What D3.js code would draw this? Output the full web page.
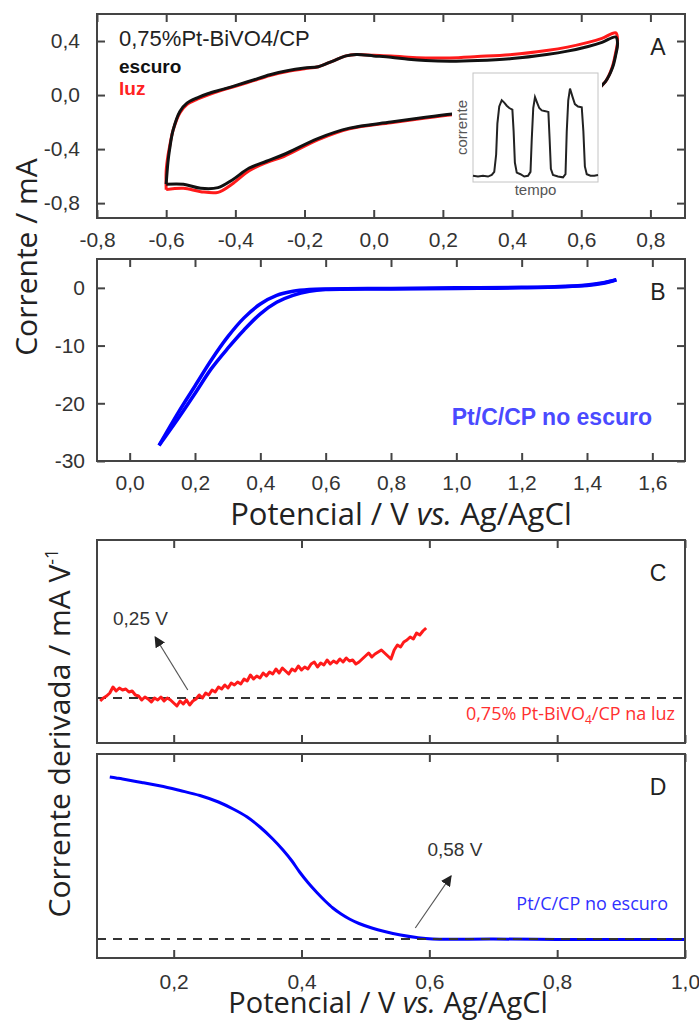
<html>
<head>
<script src="https://d3js.org/d3.v7.min.js"></script>
<style>
  body { margin: 0; background: #fff; }
</style>
</head>
<body>
<script>
// ---- data ----

// Panel A: cyclic voltammogram, 0,75%Pt-BiVO4/CP  [potential V, current mA]
var cvDark = [[-0.60,-0.66],[-0.595,-0.50],[-0.59,-0.40],[-0.58,-0.26],[-0.56,-0.12],[-0.54,-0.06],[-0.51,-0.02],[-0.48,0.01],
  [-0.44,0.04],[-0.40,0.07],[-0.35,0.11],[-0.30,0.15],[-0.25,0.18],[-0.20,0.20],[-0.16,0.21],[-0.12,0.25],[-0.08,0.29],
  [-0.05,0.30],[0.0,0.29],[0.05,0.28],[0.10,0.265],[0.15,0.255],[0.22,0.25],[0.30,0.255],[0.40,0.27],[0.50,0.30],
  [0.56,0.325],[0.62,0.36],[0.66,0.39],[0.70,0.43],[0.705,0.38],[0.70,0.30],[0.69,0.20],[0.67,0.10],[0.64,0.03],
  [0.60,-0.01],[0.50,-0.06],[0.40,-0.09],[0.30,-0.12],[0.227,-0.14],[0.15,-0.165],[0.05,-0.20],[-0.07,-0.245],
  [-0.16,-0.32],[-0.26,-0.44],[-0.31,-0.49],[-0.36,-0.54],[-0.41,-0.63],[-0.45,-0.685],[-0.50,-0.69],[-0.55,-0.66],[-0.60,-0.66]];
var cvLight = [[-0.60,-0.70],[-0.60,-0.56],[-0.595,-0.45],[-0.59,-0.38],[-0.58,-0.26],[-0.56,-0.13],[-0.54,-0.07],[-0.51,-0.03],
  [-0.48,0.0],[-0.44,0.035],[-0.40,0.065],[-0.35,0.105],[-0.30,0.145],[-0.25,0.175],[-0.20,0.195],[-0.16,0.21],[-0.12,0.25],
  [-0.08,0.29],[-0.05,0.30],[0.0,0.295],[0.05,0.29],[0.10,0.28],[0.15,0.275],[0.22,0.275],[0.30,0.285],[0.40,0.30],
  [0.50,0.33],[0.56,0.355],[0.62,0.39],[0.66,0.42],[0.70,0.46],[0.705,0.40],[0.70,0.32],[0.69,0.21],[0.67,0.10],
  [0.64,0.03],[0.60,-0.01],[0.50,-0.065],[0.40,-0.095],[0.30,-0.125],[0.227,-0.145],[0.15,-0.17],[0.05,-0.205],
  [-0.07,-0.25],[-0.16,-0.33],[-0.26,-0.455],[-0.31,-0.50],[-0.36,-0.56],[-0.41,-0.66],[-0.45,-0.72],[-0.50,-0.715],
  [-0.55,-0.69],[-0.60,-0.70]];

// inset of panel A: chopped light transient [time a.u., current a.u.]
var insetPulses = [[0,0.03],[4,0.02],[8,0.03],[12,0.02],[15,0.04],[17,0.08],[18.5,0.3],[19.5,0.7],[21,0.92],[23,1.0],
  [25,0.97],[27,0.93],[29,0.9],[31.5,0.88],[32.5,0.6],[33.5,0.2],[35,0.07],[38,0.05],[41,0.02],[44,0.03],[46,0.08],
  [47,0.5],[48.2,0.9],[49.6,1.04],[51.5,0.96],[53,0.9],[55,0.87],[58,0.86],[60.3,0.85],[61.3,0.5],[62.3,0.12],[64,0.04],
  [68,0.02],[72,0.01],[74,0.05],[75,0.6],[76.2,1.0],[77.6,1.15],[79.5,1.05],[81.5,0.95],[84,0.92],[87,0.91],[88.3,0.6],
  [89.5,0.15],[91,0.05],[94,0.03],[97,0.03],[100,0.04]];

// Panel B: Pt/C/CP in the dark, two scan branches [potential V, current mA]
var ptForward = [[0.09,-27.3],[0.15,-21.5],[0.20,-17.0],[0.25,-12.5],[0.30,-8.5],[0.35,-5.2],[0.40,-2.8],[0.45,-1.3],
  [0.50,-0.6],[0.55,-0.3],[0.60,-0.2],[0.80,-0.1],[1.00,0.0],[1.20,0.1],[1.30,0.2],[1.40,0.5],[1.45,0.9],[1.49,1.4]];
var ptBackward = [[1.49,1.4],[1.45,0.8],[1.40,0.4],[1.20,0.0],[1.00,-0.1],[0.80,-0.2],[0.60,-0.3],[0.55,-0.6],[0.50,-1.3],
  [0.45,-2.5],[0.40,-4.5],[0.35,-7.3],[0.30,-10.5],[0.25,-14.0],[0.20,-18.3],[0.15,-22.5],[0.09,-27.3]];

// Panel C: derivative current, 0,75% Pt-BiVO4/CP under light
var derivLight = [[0.085,-0.03],[0.090,0.00],[0.095,0.02],[0.100,0.05],[0.105,0.11],[0.110,0.07],[0.115,0.10],[0.120,0.08],
  [0.125,0.09],[0.130,0.06],[0.135,0.07],[0.140,0.03],[0.145,0.02],[0.150,-0.02],[0.155,0.01],[0.160,-0.01],[0.165,-0.04],
  [0.170,0.00],[0.175,-0.02],[0.180,0.01],[0.185,-0.03],[0.190,0.00],[0.195,-0.02],[0.200,-0.05],[0.205,-0.08],[0.210,-0.03],
  [0.215,-0.06],[0.220,-0.02],[0.225,-0.07],[0.230,-0.03],[0.235,-0.01],[0.240,0.03],[0.245,0.00],[0.250,0.05],[0.255,0.03],
  [0.260,0.08],[0.265,0.06],[0.270,0.11],[0.275,0.09],[0.280,0.13],[0.285,0.10],[0.290,0.15],[0.295,0.13],[0.300,0.16],
  [0.305,0.14],[0.310,0.19],[0.315,0.17],[0.320,0.23],[0.325,0.19],[0.330,0.22],[0.335,0.20],[0.340,0.25],[0.345,0.22],
  [0.350,0.26],[0.355,0.24],[0.360,0.29],[0.365,0.25],[0.370,0.30],[0.375,0.27],[0.380,0.24],[0.385,0.29],[0.390,0.27],
  [0.395,0.32],[0.400,0.28],[0.405,0.31],[0.410,0.29],[0.415,0.34],[0.420,0.36],[0.425,0.31],[0.430,0.35],[0.435,0.33],
  [0.440,0.38],[0.445,0.34],[0.450,0.37],[0.455,0.35],[0.460,0.39],[0.465,0.36],[0.470,0.40],[0.475,0.37],[0.480,0.38],
  [0.485,0.34],[0.490,0.36],[0.495,0.39],[0.500,0.42],[0.505,0.45],[0.510,0.41],[0.515,0.44],[0.520,0.46],[0.525,0.48],
  [0.530,0.45],[0.535,0.42],[0.540,0.39],[0.545,0.48],[0.550,0.53],[0.555,0.51],[0.560,0.56],[0.565,0.58],[0.570,0.61],
  [0.575,0.59],[0.580,0.65],[0.585,0.63],[0.590,0.67],[0.595,0.70]];

// Panel D: derivative current, Pt/C/CP in the dark
var derivDark = [[0.100,1.62],[0.110,1.61],[0.120,1.60],[0.150,1.565],[0.190,1.515],[0.210,1.485],[0.241,1.435],
  [0.270,1.37],[0.293,1.30],[0.315,1.22],[0.335,1.12],[0.355,1.00],[0.371,0.89],[0.385,0.78],[0.397,0.67],[0.410,0.565],
  [0.424,0.465],[0.437,0.38],[0.449,0.31],[0.462,0.25],[0.475,0.20],[0.490,0.155],[0.510,0.11],[0.530,0.075],
  [0.555,0.04],[0.580,0.015],[0.605,0.00],[0.700,0.00],[0.800,-0.005],[0.900,-0.005],[1.000,-0.005]];

// onset arrows: [tail, head] in data units
var onsetC = [[0.222,0.08],[0.171,0.61]];
var onsetD = [[0.578,0.11],[0.634,0.63]];

// tick values
var ticksAx = [-0.8,-0.6,-0.4,-0.2,0.0,0.2,0.4,0.6,0.8];
var ticksAy = [-0.8,-0.4,0.0,0.4];
var ticksBx = [0.0,0.2,0.4,0.6,0.8,1.0,1.2,1.4,1.6];
var ticksBy = [-30,-20,-10,0];
var ticksCDx = [0.2,0.4,0.6,0.8,1.0];

// ---- layout ----
var width = 699, height = 1021;
var left = 97, right = 685;
var panelA = {top: 14, bottom: 218};
var panelB = {top: 259, bottom: 461};
var panelC = {top: 540, bottom: 743};
var panelD = {top: 754, bottom: 958};

var frameColor = "#444";
var tickFont = "'Liberation Sans', Arial, sans-serif";
var titleFont = "'Open Sans', sans-serif";

// Portuguese style numbers: comma decimal, plain hyphen minus
var locale = d3.formatLocale({decimal: ",", thousands: ".", grouping: [3], currency: ["", ""], minus: "-"});
var fmt1 = locale.format(".1f");
var fmt0 = locale.format(".0f");

var svg = d3.select("body").append("svg")
    .attr("width", width)
    .attr("height", height);

svg.append("rect").attr("width", width).attr("height", height).attr("fill", "#fff");

// scales
var xA = d3.scaleLinear().domain([-0.8, 0.9]).range([left, right]);
var yA = d3.scaleLinear().domain([-0.91, 0.6]).range([panelA.bottom, panelA.top]);
var xB = d3.scaleLinear().domain([-0.1, 1.7]).range([left, right]);
var yB = d3.scaleLinear().domain([-30, 5]).range([panelB.bottom, panelB.top]);
var xCD = d3.scaleLinear().domain([0.08, 1.0]).range([left, right]);
var yC = d3.scaleLinear().domain([-0.45, 1.58]).range([panelC.bottom, panelC.top]);
var yD = d3.scaleLinear().domain([-0.19, 1.85]).range([panelD.bottom, panelD.top]);

var noLabel = function() { return ""; };

// draws the box plus inward ticks on every side that has ticks
function drawFrame(panel, x, y, xTicks, yTicks, xFmt, yFmt, xPad, yPad) {
    var g = svg.append("g");
    if (xTicks) {
        g.append("g").attr("transform", "translate(0," + panel.bottom + ")")
            .call(d3.axisBottom(x).tickValues(xTicks).tickSize(-8).tickPadding(xPad).tickFormat(xFmt || noLabel));
        g.append("g").attr("transform", "translate(0," + panel.top + ")")
            .call(d3.axisTop(x).tickValues(xTicks).tickSize(-8).tickFormat(noLabel));
    }
    if (yTicks) {
        g.append("g").attr("transform", "translate(" + left + ",0)")
            .call(d3.axisLeft(y).tickValues(yTicks).tickSize(-8).tickPadding(yPad).tickFormat(yFmt || noLabel));
        g.append("g").attr("transform", "translate(" + right + ",0)")
            .call(d3.axisRight(y).tickValues(yTicks).tickSize(-8).tickFormat(noLabel));
    }
    g.selectAll(".domain").remove();
    g.selectAll(".tick line").attr("stroke", frameColor).attr("stroke-width", 2);
    g.selectAll(".tick text").attr("fill", "#333").attr("font-family", tickFont).attr("font-size", 21);
    g.append("rect")
        .attr("x", left).attr("y", panel.top)
        .attr("width", right - left).attr("height", panel.bottom - panel.top)
        .attr("fill", "none").attr("stroke", frameColor).attr("stroke-width", 2);
}

function panelLetter(panel, letter) {
    svg.append("text")
        .attr("x", 658).attr("y", panel.top + 41)
        .attr("text-anchor", "middle")
        .attr("font-family", tickFont).attr("font-size", 23).attr("fill", "#222")
        .text(letter);
}

var smooth = d3.curveCatmullRom.alpha(0.5);

// ---------------- Panel A ----------------
var lineA = d3.line().x(d => xA(d[0])).y(d => yA(d[1])).curve(smooth);
svg.append("path").datum(cvLight).attr("d", lineA)
    .attr("fill", "none").attr("stroke", "#ff1a1a").attr("stroke-width", 3);
svg.append("path").datum(cvDark).attr("d", lineA)
    .attr("fill", "none").attr("stroke", "#111").attr("stroke-width", 3);

// inset sits on a white patch over the curves
var inset = {x0: 473, x1: 598, y0: 73, y1: 182};
svg.append("rect").attr("x", 452).attr("y", 68).attr("width", 150).attr("height", 130).attr("fill", "#fff");
var xIn = d3.scaleLinear().domain([0, 100]).range([inset.x0, inset.x1]);
var yIn = d3.scaleLinear().domain([-0.05, 1.35]).range([inset.y1, inset.y0]);
svg.append("rect")
    .attr("x", inset.x0).attr("y", inset.y0)
    .attr("width", inset.x1 - inset.x0).attr("height", inset.y1 - inset.y0)
    .attr("fill", "#fff").attr("stroke", "#c4c4c4").attr("stroke-width", 1);
svg.append("path").datum(insetPulses)
    .attr("d", d3.line().x(d => xIn(d[0])).y(d => yIn(d[1])))
    .attr("fill", "none").attr("stroke", "#222").attr("stroke-width", 2);
svg.append("text")
    .attr("transform", "translate(467," + ((inset.y0 + inset.y1) / 2) + ") rotate(-90)")
    .attr("text-anchor", "middle")
    .attr("font-family", tickFont).attr("font-size", 15).attr("fill", "#555")
    .text("corrente");
svg.append("text")
    .attr("x", (inset.x0 + inset.x1) / 2).attr("y", 195)
    .attr("text-anchor", "middle")
    .attr("font-family", tickFont).attr("font-size", 15).attr("fill", "#555")
    .text("tempo");

drawFrame(panelA, xA, yA, ticksAx, ticksAy, fmt1, fmt1, 14, 17);
panelLetter(panelA, "A");

svg.append("text").attr("x", 119).attr("y", 46)
    .attr("font-family", tickFont).attr("font-size", 22).attr("fill", "#222")
    .text("0,75%Pt-BiVO4/CP");
svg.append("text").attr("x", 119).attr("y", 73)
    .attr("font-family", tickFont).attr("font-size", 19).attr("font-weight", "bold").attr("fill", "#111")
    .text("escuro");
svg.append("text").attr("x", 119).attr("y", 95)
    .attr("font-family", tickFont).attr("font-size", 19).attr("font-weight", "bold").attr("fill", "#ff2222")
    .text("luz");

// ---------------- Panel B ----------------
var lineB = d3.line().x(d => xB(d[0])).y(d => yB(d[1])).curve(smooth);
[ptForward, ptBackward].forEach(function(branch) {
    svg.append("path").datum(branch).attr("d", lineB)
        .attr("fill", "none").attr("stroke", "#0000ff").attr("stroke-width", 3.5);
});
drawFrame(panelB, xB, yB, ticksBx, ticksBy, fmt1, fmt0, 14, 12);
panelLetter(panelB, "B");
svg.append("text").attr("x", 652).attr("y", 425)
    .attr("text-anchor", "end")
    .attr("font-family", tickFont).attr("font-size", 23).attr("font-weight", "bold").attr("fill", "#4a4aff")
    .text("Pt/C/CP no escuro");

// ---------------- Panel C ----------------
var lineC = d3.line().x(d => xCD(d[0])).y(d => yC(d[1]));
svg.append("line")
    .attr("x1", left).attr("x2", right).attr("y1", yC(0)).attr("y2", yC(0))
    .attr("stroke", "#333").attr("stroke-width", 2).attr("stroke-dasharray", "9,7");
svg.append("path").datum(derivLight).attr("d", lineC)
    .attr("fill", "none").attr("stroke", "#ff1a1a").attr("stroke-width", 3).attr("stroke-linejoin", "round");
drawFrame(panelC, xCD, yC, ticksCDx, null, null, null, 0, 0);
panelLetter(panelC, "C");

// arrow head marker
svg.append("defs").append("marker")
    .attr("id", "head")
    .attr("viewBox", "0 0 10 10")
    .attr("refX", 9).attr("refY", 5)
    .attr("markerWidth", 11).attr("markerHeight", 11)
    .attr("markerUnits", "userSpaceOnUse")
    .attr("orient", "auto")
    .append("path").attr("d", "M0,0 L10,5 L0,10 z").attr("fill", "#222");

svg.append("line")
    .attr("x1", xCD(onsetC[0][0])).attr("y1", yC(onsetC[0][1]))
    .attr("x2", xCD(onsetC[1][0])).attr("y2", yC(onsetC[1][1]))
    .attr("stroke", "#555").attr("stroke-width", 1.2).attr("marker-end", "url(#head)");
svg.append("text").attr("x", xCD(0.105)).attr("y", yC(0.73))
    .attr("font-family", tickFont).attr("font-size", 19).attr("fill", "#333")
    .text("0,25 V");

var cLabel = svg.append("text").attr("x", 675).attr("y", 720)
    .attr("text-anchor", "end")
    .attr("font-family", titleFont).attr("font-size", 18).attr("fill", "#ff3030");
cLabel.append("tspan").text("0,75% Pt-BiVO");
cLabel.append("tspan").attr("font-size", 12).attr("dy", 4).text("4");
cLabel.append("tspan").attr("dy", -4).text("/CP na luz");

// ---------------- Panel D ----------------
var lineD = d3.line().x(d => xCD(d[0])).y(d => yD(d[1])).curve(smooth);
svg.append("path").datum(derivDark).attr("d", lineD)
    .attr("fill", "none").attr("stroke", "#0000ff").attr("stroke-width", 3);
svg.append("line")
    .attr("x1", left).attr("x2", right).attr("y1", yD(0)).attr("y2", yD(0))
    .attr("stroke", "#333").attr("stroke-width", 2).attr("stroke-dasharray", "9,7");
drawFrame(panelD, xCD, yD, ticksCDx, null, fmt1, null, 16, 0);
panelLetter(panelD, "D");

svg.append("line")
    .attr("x1", xCD(onsetD[0][0])).attr("y1", yD(onsetD[0][1]))
    .attr("x2", xCD(onsetD[1][0])).attr("y2", yD(onsetD[1][1]))
    .attr("stroke", "#555").attr("stroke-width", 1.2).attr("marker-end", "url(#head)");
svg.append("text").attr("x", xCD(0.597)).attr("y", yD(0.83))
    .attr("font-family", tickFont).attr("font-size", 19).attr("fill", "#333")
    .text("0,58 V");
svg.append("text").attr("x", 668).attr("y", 910)
    .attr("text-anchor", "end")
    .attr("font-family", titleFont).attr("font-size", 18).attr("fill", "#3030ff")
    .text("Pt/C/CP no escuro");

// ---------------- axis titles ----------------
function xTitle(y, cx, size) {
    var t = svg.append("text").attr("x", cx).attr("y", y)
        .attr("text-anchor", "middle")
        .attr("font-family", titleFont).attr("font-size", size).attr("fill", "#222");
    t.append("tspan").text("Potencial / V ");
    t.append("tspan").attr("font-style", "italic").text("vs.");
    t.append("tspan").text(" Ag/AgCl");
}
xTitle(525, 401, 31);
xTitle(1013, 388, 29);

svg.append("text")
    .attr("transform", "translate(37,257) rotate(-90)")
    .attr("text-anchor", "middle")
    .attr("font-family", titleFont).attr("font-size", 30).attr("fill", "#222")
    .text("Corrente / mA");

var dTitle = svg.append("text")
    .attr("transform", "translate(70,733) rotate(-90)")
    .attr("text-anchor", "middle")
    .attr("font-family", titleFont).attr("font-size", 30).attr("fill", "#222");
dTitle.append("tspan").text("Corrente derivada / mA V");
dTitle.append("tspan").attr("font-size", 18).attr("dy", -12).text("-1");
</script>
</body>
</html>
